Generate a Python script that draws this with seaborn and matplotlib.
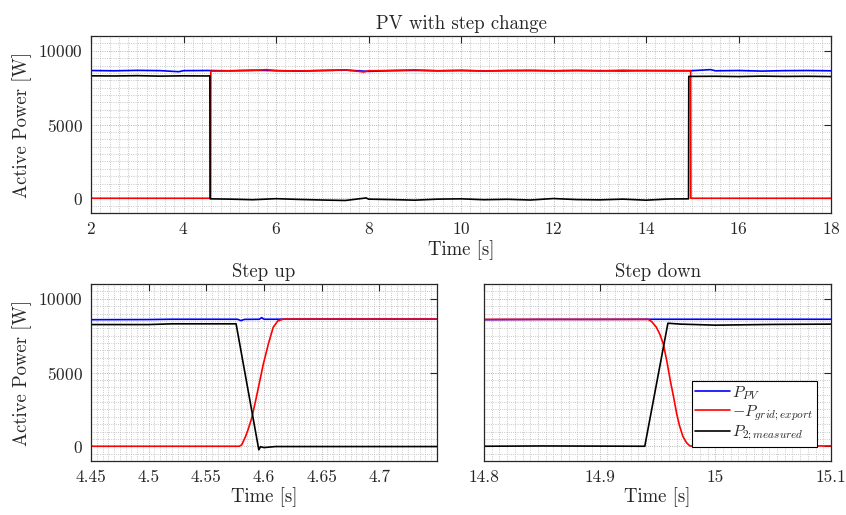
import numpy as np
import seaborn as sns
import matplotlib.pyplot as plt
from matplotlib.ticker import MultipleLocator

# ---- top panel: whole run ----
t_pv_top = [2.0, 2.5, 3.0, 3.5, 3.9, 4.0, 4.5, 5.0, 5.5, 6.0, 6.5, 7.0, 7.5, 8.0, 8.5, 9.0,
            9.5, 10.0, 10.5, 11.0, 11.5, 12.0, 12.5, 13.0, 13.5, 14.0, 14.5, 15.0, 15.4,
            15.5, 16.0, 16.5, 17.0, 17.5, 18.0]
pv_top = [8660, 8640, 8670, 8650, 8580, 8650, 8660, 8640, 8680, 8650, 8620, 8660, 8690, 8600,
          8650, 8670, 8640, 8660, 8630, 8650, 8670, 8640, 8660, 8650, 8630, 8660, 8640, 8650,
          8720, 8640, 8660, 8620, 8650, 8660, 8640]

t_grid_top = [2.0, 4.585, 4.59, 5.0, 5.5, 5.8, 6.0, 6.5, 7.0, 7.5, 7.9, 8.0, 8.5, 9.0, 9.5,
              10.0, 10.5, 11.0, 11.5, 12.0, 12.5, 13.0, 13.5, 14.0, 14.5, 14.965, 14.97, 18.0]
grid_top = [0, 0, 8620, 8640, 8660, 8720, 8650, 8630, 8660, 8700, 8560, 8640, 8660, 8700,
            8640, 8670, 8630, 8660, 8650, 8640, 8660, 8630, 8680, 8640, 8660, 8640, 0, 0]

t_p2_top = [2.0, 2.5, 3.0, 3.5, 4.0, 4.5, 4.57, 4.575, 5.0, 5.5, 6.0, 6.5, 7.0, 7.5, 7.95,
            8.0, 8.5, 9.0, 9.5, 10.0, 10.5, 11.0, 11.5, 12.0, 12.5, 13.0, 13.5, 14.0, 14.5,
            14.92, 14.925, 15.5, 16.0, 16.5, 17.0, 17.5, 18.0]
p2_top = [8300, 8290, 8310, 8280, 8300, 8290, 8300, -40, -60, -100, -30, -80, -120, -150, 20,
          -60, -90, -130, -60, -40, -100, -70, -120, -20, -90, -110, -60, -130, -50, -40,
          8260, 8270, 8250, 8280, 8260, 8270, 8250]

# ---- bottom left: step up ----
t_pv_up = [4.45, 4.5, 4.52, 4.577, 4.58, 4.583, 4.596, 4.598, 4.60, 4.65, 4.75]
pv_up = [8580, 8590, 8610, 8610, 8520, 8600, 8610, 8720, 8610, 8620, 8620]

t_grid_up = [4.45, 4.5786, 4.5807, 4.584, 4.5865, 4.5893, 4.5925, 4.596, 4.5995, 4.604,
             4.608, 4.612, 4.6168, 4.65, 4.75]
grid_up = [0, 0, 100, 660, 1200, 1900, 3000, 4300, 5600, 7000, 8070, 8500, 8620, 8620, 8620]

t_p2_up = [4.45, 4.5, 4.52, 4.5758, 4.5955, 4.597, 4.600, 4.61, 4.65, 4.75]
p2_up = [8250, 8250, 8300, 8300, -240, -30, -90, -20, -20, -20]

# ---- bottom right: step down ----
t_pv_dn = [14.8, 14.85, 14.9, 14.95, 15.0, 15.1]
pv_dn = [8580, 8600, 8600, 8610, 8610, 8610]

t_grid_dn = [14.8, 14.942, 14.945, 14.949, 14.952, 14.955, 14.958, 14.961, 14.964, 14.9665,
             14.969, 14.972, 14.975, 14.978, 15.1]
grid_dn = [8600, 8600, 8450, 8070, 7600, 6950, 5800, 4480, 3300, 2240, 1400, 660, 250, 20, 20]

t_p2_dn = [14.8, 14.85, 14.939, 14.959, 14.97, 15.0, 15.05, 15.1]
p2_dn = [0, 20, 0, 8340, 8280, 8210, 8260, 8280]

labels = [r'$P_{PV}$', r'$-P_{grid;export}$', r'$P_{2;measured}$']
colors = ['#0000ff', '#ff0000', '#000000']

sns.set_theme(style='white')
plt.rcParams['font.family'] = ['cmr10', 'DejaVu Serif']
plt.rcParams['mathtext.fontset'] = 'cm'
plt.rcParams['axes.unicode_minus'] = False
plt.rcParams['axes.formatter.use_mathtext'] = True

fig = plt.figure(figsize=(8.46, 5.15), dpi=100)
ax_top = fig.add_axes([91 / 846, 1 - 213 / 515, 740 / 846, 177 / 515])
ax_up = fig.add_axes([91 / 846, 1 - 461 / 515, 346 / 846, 177 / 515])
ax_dn = fig.add_axes([484 / 846, 1 - 461 / 515, 347 / 846, 177 / 515])


def draw(ax, series, legend=False):
    for (t, v), c, lab in zip(series, colors, labels):
        sns.lineplot(x=t, y=v, ax=ax, color=c, lw=1.2, sort=False, estimator=None,
                     label=lab if legend else None)


draw(ax_top, [(t_pv_top, pv_top), (t_grid_top, grid_top), (t_p2_top, p2_top)])
draw(ax_up, [(t_pv_up, pv_up), (t_grid_up, grid_up), (t_p2_up, p2_up)])
draw(ax_dn, [(t_pv_dn, pv_dn), (t_grid_dn, grid_dn), (t_p2_dn, p2_dn)], legend=True)

setup = [
    (ax_top, (2, 18), 2, 0.2, 'PV with step change'),
    (ax_up, (4.45, 4.75), 0.05, 0.005, 'Step up'),
    (ax_dn, (14.8, 15.1), 0.1, 0.1 / 15, 'Step down'),
]
for ax, xl, maj, mnr, title in setup:
    ax.set_xlim(*xl)
    ax.set_ylim(-1000, 11000)
    ax.xaxis.set_major_locator(MultipleLocator(maj))
    ax.xaxis.set_minor_locator(MultipleLocator(mnr))
    ax.yaxis.set_major_locator(MultipleLocator(5000))
    ax.yaxis.set_minor_locator(MultipleLocator(500))
    ax.grid(which='major', ls=':', color='#9c9c9c', lw=0.6)
    ax.grid(which='minor', ls=':', color='#b6b6b6', lw=0.6)
    ax.tick_params(which='major', direction='in', length=5, width=0.8, color='#262626',
                   top=True, right=True, labelsize=12.5, pad=6)
    ax.tick_params(which='minor', length=0)
    for s in ax.spines.values():
        s.set_color('#262626')
        s.set_linewidth(0.9)
    ax.set_title(title, fontsize=13.5, pad=5)
    ax.set_xlabel('Time [s]', fontsize=13.5, labelpad=2)

ax_top.set_ylabel('Active Power [W]', fontsize=13.5)
ax_up.set_ylabel('Active Power [W]', fontsize=13.5)
ax_dn.set_ylabel('')
ax_dn.tick_params(labelleft=False)
ax_up.set_xticks([4.45, 4.5, 4.55, 4.6, 4.65, 4.7])
ax_up.set_xticklabels(['4.45', '4.5', '4.55', '4.6', '4.65', '4.7'])
ax_dn.set_xticks([14.8, 14.9, 15.0, 15.1])
ax_dn.set_xticklabels(['14.8', '14.9', '15', '15.1'])

leg = ax_dn.legend(loc='lower right', fontsize=11.5, frameon=True, fancybox=False,
                   framealpha=1, edgecolor='#000000', handlelength=2.2, handletextpad=0.15,
                   borderpad=0.2, labelspacing=0.1, borderaxespad=0.9)
leg.get_frame().set_linewidth(0.8)

fig.savefig('out.png', dpi=100)
